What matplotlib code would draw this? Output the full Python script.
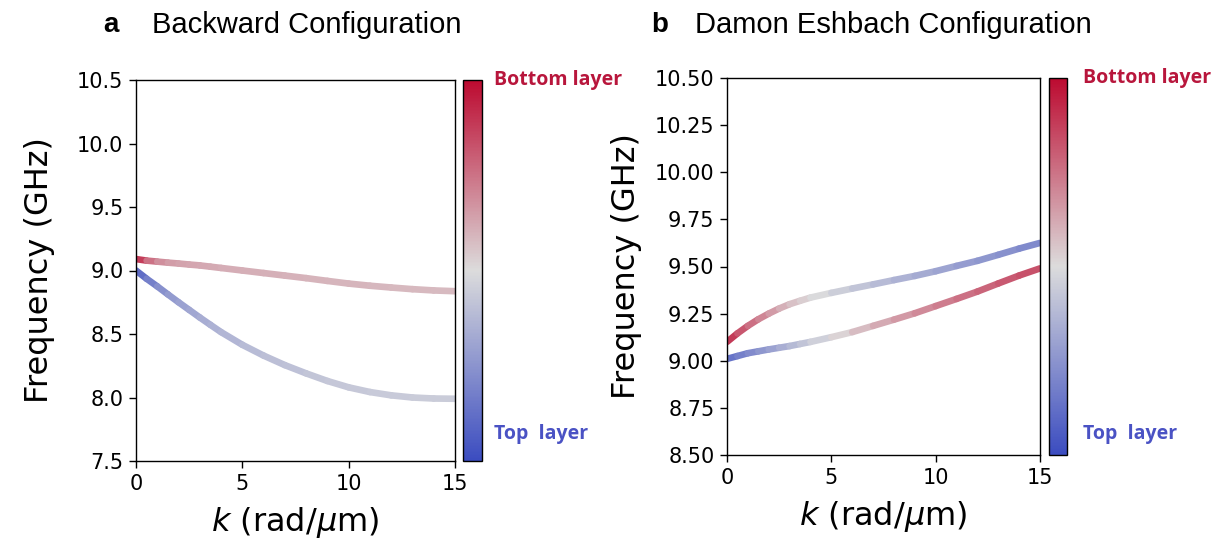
import numpy as np
import matplotlib
matplotlib.use("Agg")
import matplotlib.pyplot as plt
from matplotlib.collections import LineCollection
from matplotlib.cm import ScalarMappable
from matplotlib.colors import Normalize, LinearSegmentedColormap

# wave vector (rad/um)
k = [0, 0.5, 1, 1.5, 2, 2.5, 3, 3.5, 4, 5, 6, 7, 8, 9, 10, 11, 12, 13, 14, 15]

# Backward configuration: the two modes and their layer weight (0 = top, 1 = bottom)
bv_f1 = [9.09, 9.078, 9.07, 9.062, 9.055, 9.047, 9.04, 9.03, 9.02, 9.0, 8.98, 8.96, 8.94, 8.918, 8.897, 8.88, 8.866, 8.853, 8.843, 8.837]
bv_c1 = [0.95, 0.80, 0.70, 0.66, 0.64, 0.63, 0.625, 0.62, 0.615, 0.61, 0.605, 0.60, 0.60, 0.595, 0.59, 0.59, 0.585, 0.585, 0.58, 0.58]
bv_f2 = [9.0, 8.935, 8.875, 8.812, 8.75, 8.69, 8.63, 8.572, 8.515, 8.415, 8.33, 8.255, 8.19, 8.13, 8.08, 8.043, 8.017, 8.0, 7.992, 7.99]
bv_c2 = [0.08, 0.15, 0.21, 0.26, 0.29, 0.31, 0.33, 0.345, 0.36, 0.38, 0.395, 0.405, 0.415, 0.425, 0.43, 0.435, 0.44, 0.44, 0.445, 0.445]

# Damon-Eshbach configuration
de_f1 = [9.10, 9.145, 9.185, 9.22, 9.25, 9.277, 9.30, 9.318, 9.335, 9.36, 9.383, 9.405, 9.428, 9.45, 9.475, 9.503, 9.53, 9.562, 9.595, 9.625]
de_c1 = [0.92, 0.85, 0.78, 0.73, 0.68, 0.63, 0.58, 0.55, 0.52, 0.47, 0.43, 0.40, 0.37, 0.34, 0.32, 0.29, 0.27, 0.25, 0.23, 0.20]
de_f2 = [9.01, 9.025, 9.04, 9.05, 9.06, 9.069, 9.078, 9.089, 9.10, 9.125, 9.152, 9.185, 9.218, 9.252, 9.29, 9.328, 9.367, 9.41, 9.452, 9.49]
de_c2 = [0.12, 0.16, 0.20, 0.24, 0.28, 0.32, 0.36, 0.40, 0.43, 0.49, 0.55, 0.60, 0.64, 0.68, 0.71, 0.74, 0.77, 0.80, 0.82, 0.84]

xticks = [0, 5, 10, 15]
bv_yticks = [7.5, 8.0, 8.5, 9.0, 9.5, 10.0, 10.5]
de_yticks = [8.5, 8.75, 9.0, 9.25, 9.5, 9.75, 10.0, 10.25, 10.5]

# blue (top layer) -> grey -> red (bottom layer)
cmap = LinearSegmentedColormap.from_list("layer", ["#3b4cc0", "#dcdcdc", "#bc0a30"])
norm = Normalize(0, 1)

W, H = 1216, 554
fig = plt.figure(figsize=(W / 100, H / 100), dpi=100)


def box(x0, y0, x1, y1):
    # pixel box (top-left origin) -> figure fraction
    return [x0 / W, 1 - y1 / H, (x1 - x0) / W, (y1 - y0) / H]


def gradient_line(ax, x, y, c):
    x = np.asarray(x); y = np.asarray(y); c = np.asarray(c)
    pts = np.column_stack([x, y]).reshape(-1, 1, 2)
    segs = np.concatenate([pts[:-1], pts[1:]], axis=1)
    lc = LineCollection(segs, cmap=cmap, norm=norm, linewidth=4.8, capstyle="round")
    lc.set_array((c[:-1] + c[1:]) / 2)
    ax.add_collection(lc)


def panel(ax_box, cb_box, f1, c1, f2, c2, yticks, fmt, ypad, label_x, letter, title, letter_x, title_x):
    ax = fig.add_axes(box(*ax_box))
    gradient_line(ax, k, f1, c1)
    gradient_line(ax, k, f2, c2)
    ax.set_xlim(0, 15)
    ax.set_ylim(yticks[0], yticks[-1])
    ax.set_xticks(xticks)
    ax.set_yticks(yticks)
    ax.set_yticklabels([fmt.format(v) for v in yticks])
    ax.tick_params(labelsize=15, length=5, width=1, pad=4)
    for s in ax.spines.values():
        s.set_linewidth(1.0)
    ax.set_ylabel("Frequency (GHz)", fontsize=23, labelpad=ypad)
    ax.set_xlabel(r"$k$ (rad/$\mu$m)", fontsize=23, labelpad=8)

    cax = fig.add_axes(box(*cb_box))
    cb = fig.colorbar(ScalarMappable(norm=norm, cmap=cmap), cax=cax)
    cb.set_ticks([])
    cb.outline.set_linewidth(1.0)

    fig.text(label_x / W, 1 - cb_box[1] / H, "Bottom layer", color="#b8163c",
             fontsize=14, fontweight="bold", family="Open Sans", va="center")
    fig.text(label_x / W, 1 - 434 / H, "Top  layer", color="#4a52c4",
             fontsize=14, fontweight="bold", family="Open Sans", va="center")

    fig.text(letter_x / W, 1 - 25 / H, letter, fontsize=20, fontweight="bold",
             family="Liberation Sans", va="center")
    fig.text(title_x / W, 1 - 25 / H, title, fontsize=21,
             family="Liberation Sans", va="center")
    return ax


panel((136, 80, 455, 461), (463, 80, 482, 461), bv_f1, bv_c1, bv_f2, bv_c2,
      bv_yticks, "{:.1f}", 16, 494, "a", "Backward Configuration", 103, 152)
panel((727, 78, 1040, 455), (1049, 78, 1067, 455), de_f1, de_c1, de_f2, de_c2,
      de_yticks, "{:.2f}", 9, 1083, "b", "Damon Eshbach Configuration", 651, 695)

fig.savefig("out.png", dpi=100)
